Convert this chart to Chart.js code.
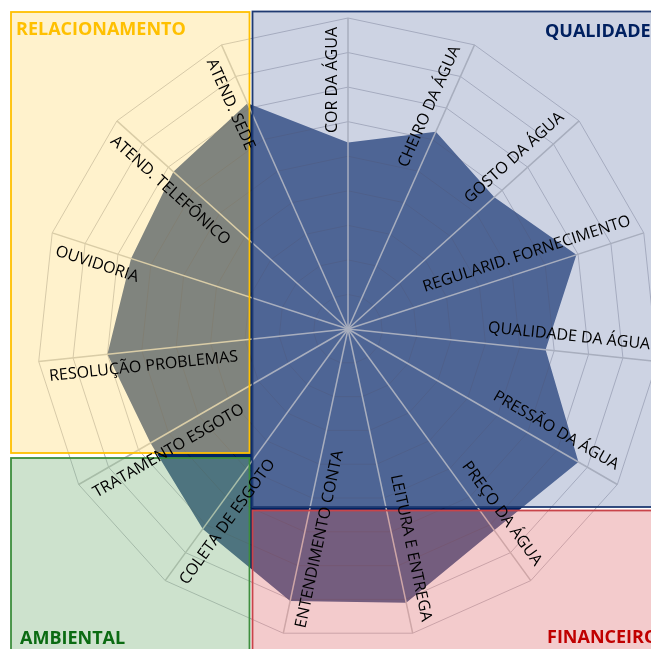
<!DOCTYPE html>
<html lang="pt">
<head>
<meta charset="UTF-8">
<title>Pesquisa de satisfação</title>
<script src="https://cdn.jsdelivr.net/npm/chart.js"></script>
<style>
    body {
        margin: 0;
        background: #fff;
        overflow: hidden;
    }
    #wrap {
        width: 700px;
        height: 649px;
    }
</style>
</head>
<body>
<div id="wrap"><canvas id="radar" width="700" height="649"></canvas></div>
<script>
    // itens avaliados, no sentido horário a partir do topo
    const labels = [
        'COR DA ÁGUA', 'CHEIRO DA ÁGUA', 'GOSTO DA ÁGUA', 'REGULARID. FORNECIMENTO',
        'QUALIDADE DA ÁGUA', 'PRESSÃO DA ÁGUA', 'PREÇO DA ÁGUA', 'LEITURA E ENTREGA',
        'ENTENDIMENTO CONTA', 'COLETA DE ESGOTO', 'TRATAMENTO ESGOTO', 'RESOLUÇÃO PROBLEMAS',
        'OUVIDORIA', 'ATEND. TELEFÔNICO', 'ATEND. SEDE'
    ];
    const scores = [6.4, 7.25, 6.7, 7.95, 6.75, 8.7, 8.2, 9.1, 9.05, 8.15, 7.6, 8.0, 7.6, 7.8, 8.15];
    const scaleMin = 1;
    const scaleMax = 10;
    const groupNames = ['RELACIONAMENTO', 'QUALIDADE', 'AMBIENTAL', 'FINANCEIRO'];

    // caixas coloridas por cima do gráfico + rótulos girados ao longo dos raios
    const groupBoxes = {
        id: 'groupBoxes',
        afterDraw(chart) {
            const ctx = chart.ctx;
            const boxes = [
                { x: 11, y: 12, w: 238.5, h: 441, fill: 'rgba(255,229,153,0.5)', line: '#FFC000', color: '#FFC000', tx: 16, ty: 35 },
                { x: 252.5, y: 11.5, w: 460, h: 495.5, fill: 'rgba(155,167,199,0.5)', line: '#1F3A72', color: '#002060', tx: 545, ty: 37 },
                { x: 11, y: 458, w: 238.5, h: 220, fill: 'rgba(155,197,155,0.5)', line: '#3E8E3E', color: '#0B6B12', tx: 20, ty: 644 },
                { x: 252.5, y: 510.5, w: 460, h: 220, fill: 'rgba(231,151,153,0.5)', line: '#C9444A', color: '#C00000', tx: 547, ty: 643 }
            ];
            ctx.save();
            boxes.forEach(b => {
                ctx.fillStyle = b.fill;
                ctx.fillRect(b.x, b.y, b.w, b.h);
                ctx.strokeStyle = b.line;
                ctx.lineWidth = 1.8;
                ctx.strokeRect(b.x, b.y, b.w, b.h);
            });
            boxes.forEach((b, i) => {
                ctx.font = 'bold 18px "Open Sans"';
                ctx.fillStyle = b.color;
                ctx.textAlign = 'left';
                ctx.textBaseline = 'alphabetic';
                ctx.fillText(groupNames[i], b.tx, b.ty);
            });

            const scale = chart.scales.r;
            const outer = 302;
            const off = 16;
            ctx.font = '16px "Open Sans"';
            ctx.fillStyle = '#000';
            ctx.textBaseline = 'middle';
            labels.forEach((text, i) => {
                const a = scale.getIndexAngle(i);
                ctx.save();
                ctx.translate(scale.xCenter, scale.yCenter);
                if (a < Math.PI) {
                    ctx.rotate(a - Math.PI / 2);
                    ctx.textAlign = 'right';
                    ctx.fillText(text, outer, -off);
                } else {
                    ctx.rotate(a + Math.PI / 2);
                    ctx.textAlign = 'left';
                    ctx.fillText(text, -outer, off);
                }
                ctx.restore();
            });
            ctx.restore();
        }
    };

    new Chart(document.getElementById('radar'), {
        type: 'radar',
        data: {
            labels: labels,
            datasets: [{
                data: scores,
                backgroundColor: 'rgb(0,35,99)',
                borderWidth: 0,
                pointRadius: 0,
                fill: true
            }]
        },
        options: {
            responsive: false,
            animation: false,
            layout: { padding: { left: 37, right: 41, top: 18, bottom: 9 } },
            plugins: {
                legend: { display: false },
                tooltip: { enabled: false }
            },
            scales: {
                r: {
                    min: scaleMin,
                    max: scaleMax,
                    ticks: { display: false, stepSize: 1, z: 1 },
                    pointLabels: { display: false },
                    grid: { color: 'rgba(0,0,30,0.32)', lineWidth: 1, z: 1 },
                    angleLines: { color: '#b4b4b4', lineWidth: 1.5 }
                }
            }
        },
        plugins: [groupBoxes]
    });
</script>
</body>
</html>
